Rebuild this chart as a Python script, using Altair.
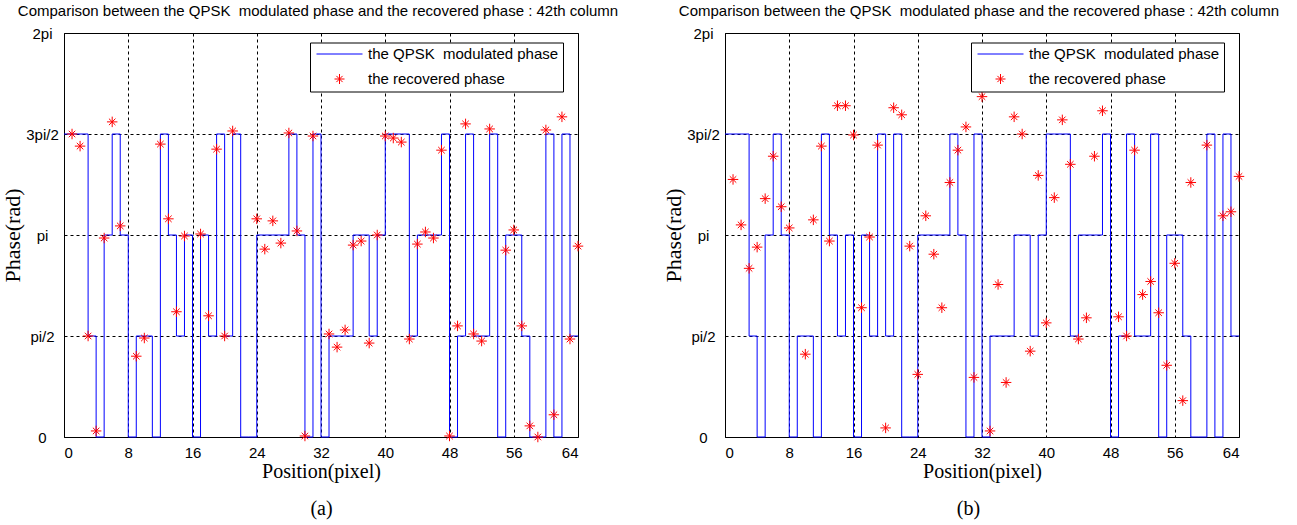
import math
import altair as alt
import pandas as pd

PI = math.pi

# QPSK modulated phase (in units of pi/2), one value per pixel 0..63 (same in both panels)
qpsk_steps = [3, 3, 3, 1, 0, 2, 3, 2, 0, 1,
              1, 0, 3, 2, 1, 2, 0, 2, 1, 3,
              1, 3, 0, 0, 2, 2, 2, 2, 3, 2,
              0, 3, 0, 1, 1, 1, 2, 2, 1, 2,
              3, 3, 3, 1, 2, 2, 2, 3, 0, 1,
              3, 1, 1, 3, 0, 2, 2, 1, 0, 0,
              3, 0, 3, 1]

# recovered phase, panel (a) (positions, value in units of pi/2)
a_pos = [1, 2, 3, 4, 5, 6, 7, 9, 10, 12, 13, 14, 15, 17, 18, 19, 20, 21,
         24, 25, 26, 27, 28, 29, 30, 31, 33, 34, 35, 36, 37, 38, 39, 40, 41,
         42, 43, 44, 45, 46, 47, 48, 49, 50, 51, 52, 53, 55, 56, 57, 58, 59,
         60, 61, 62, 63, 64]
a_val = [3.0, 2.88, 1.0, 0.06, 1.97, 3.12, 2.09, 0.80, 0.98, 2.90, 2.16, 1.24,
         1.99, 2.01, 1.20, 2.85, 1.0, 3.03, 2.16, 1.86, 2.14, 1.92, 3.01, 2.04,
         0.01, 2.98, 1.02, 0.89, 1.06, 1.90, 1.94, 0.93, 2.0, 2.98, 2.96, 2.92,
         0.97, 1.91, 2.03, 1.97, 2.84, 0.01, 1.10, 3.10, 1.02, 0.95, 3.05, 1.85,
         2.05, 1.10, 0.11, 0.0, 3.04, 0.22, 3.17, 0.97, 1.89]

# recovered phase, panel (b)
b_pos = [1, 2, 3, 4, 5, 6, 7, 8, 10, 11, 12, 13, 14, 15, 16, 17, 18, 19, 20,
         21, 22, 23, 24, 25, 26, 27, 28, 29, 30, 31, 32, 33, 34, 35, 36, 37,
         38, 39, 40, 41, 42, 43, 44, 45, 46, 47, 49, 50, 51, 52, 53, 54, 55,
         56, 57, 58, 60, 62, 63, 64]
b_val = [2.55, 2.10, 1.67, 1.88, 2.36, 2.78, 2.28, 2.07, 0.82, 2.15, 2.88, 1.94,
         3.28, 3.28, 2.99, 1.28, 1.98, 2.89, 0.09, 3.26, 3.19, 1.89, 0.62, 2.19,
         1.81, 1.28, 2.52, 2.84, 3.07, 0.59, 3.37, 0.06, 1.51, 0.54, 3.17, 3.0,
         0.85, 2.59, 1.13, 2.37, 3.14, 2.70, 0.97, 1.18, 2.78, 3.23, 1.19, 1.0,
         2.84, 1.41, 1.54, 1.23, 0.71, 1.72, 0.36, 2.52, 2.89, 2.19, 2.23, 2.58]

x_ticks = [0, 8, 16, 24, 32, 40, 48, 56, 64]
y_tick_labels = ["0", "pi/2", "pi", "3pi/2", "2pi"]
series_names = ["the QPSK\u00a0 modulated phase", "the recovered phase"]
title_text = "Comparison between the QPSK\u00a0 modulated phase and the recovered phase : 42th column"
captions = ["(a)", "(b)"]
caption_x = [257, 243]   # horizontal placement of the caption under each panel (px)

ASTERISK = "M0,-1L0,1M-1,0L1,0M-0.62,-0.62L0.62,0.62M-0.62,0.62L0.62,-0.62"
LINE_SYM = "M-4.6,0L4.6,0"

W, H = 514, 404

step_df = pd.DataFrame({
    "x": list(range(len(qpsk_steps) + 1)),
    "phase": [v * PI / 2 for v in qpsk_steps + [qpsk_steps[-1]]],
    "series": series_names[0],
})

label_expr = "[" + ",".join("'%s'" % s for s in y_tick_labels) + "][round(datum.value/(PI/2))]"


def panel(pos, val, caption, cap_x):
    pts_df = pd.DataFrame({"x": pos, "phase": [v * PI / 2 for v in val],
                           "series": series_names[1]})
    xscale = alt.Scale(domain=[0, 64], nice=False)
    xenc = alt.X("x:Q", scale=xscale,
                 axis=alt.Axis(values=x_ticks, title="Position(pixel)", orient="bottom",
                               titleFont="Liberation Serif", titleFontSize=20,
                               titleFontWeight="normal", titlePadding=1, labelPadding=8))
    xcap = alt.X("x:Q", scale=xscale,
                 axis=alt.Axis(title=caption, orient="bottom", labels=False, grid=False,
                               domain=False, ticks=False, titleFont="Liberation Serif",
                               titleFontSize=20, titleFontWeight="normal",
                               titleX=cap_x, titleY=71,
                               titleBaseline="middle", titleAnchor="middle"))
    yenc = alt.Y("phase:Q", scale=alt.Scale(domain=[0, 2 * PI], nice=False, zero=False),
                 axis=alt.Axis(values=[i * PI / 2 for i in range(5)], labelExpr=label_expr,
                               title="Phase(rad)", titleFont="Liberation Serif",
                               titleFontSize=22, titleFontWeight="normal",
                               labelAlign="center", labelPadding=22, titlePadding=1))
    leg = alt.Legend(title=None, orient="none", legendX=246, legendY=9.5)
    color = alt.Color("series:N", scale=alt.Scale(domain=series_names, range=["#0000ff", "#ff0000"]),
                      legend=leg)
    shape = alt.Shape("series:N", scale=alt.Scale(domain=series_names, range=[LINE_SYM, ASTERISK]),
                      legend=leg)
    line = alt.Chart(step_df).mark_line(interpolate="step-after", strokeWidth=1).encode(
        x=xenc, y=yenc, color=color)
    pts = alt.Chart(pts_df).mark_point(filled=False, size=110, strokeWidth=1, opacity=1).encode(
        x=xcap, y="phase:Q", color=color, shape=shape)
    return alt.layer(line, pts).resolve_axis(x="independent").properties(
        width=W, height=H,
        title=alt.TitleParams(title_text, fontSize=15, font="Liberation Sans",
                              fontWeight="normal", anchor="middle", offset=7, dx=-3,
                              color="black"))


chart = alt.hconcat(panel(a_pos, a_val, captions[0], caption_x[0]),
                    panel(b_pos, b_val, captions[1], caption_x[1]),
                    spacing=147, bounds="flush").resolve_scale(
    color="independent", shape="independent").resolve_legend(
    color="independent", shape="independent").properties(
    padding={"left": 1, "top": 3, "right": 5, "bottom": 5}).configure_view(
    stroke="black", strokeWidth=1).configure_axis(
    grid=True, gridColor="black", gridDash=[3, 3], gridOpacity=1, gridWidth=1,
    ticks=False, domain=False, labelFont="Liberation Sans", labelFontSize=15,
    labelColor="black", titleColor="black").configure_legend(
    labelFont="Liberation Sans", labelFontSize=15, labelColor="black", labelLimit=0,
    strokeColor="black", fillColor="white", padding=4, rowPadding=9,
    symbolSize=100, symbolStrokeWidth=1, symbolOffset=18, labelOffset=21,
    cornerRadius=0)

chart.save("out.html", embed_options={"renderer": "svg", "actions": False})
